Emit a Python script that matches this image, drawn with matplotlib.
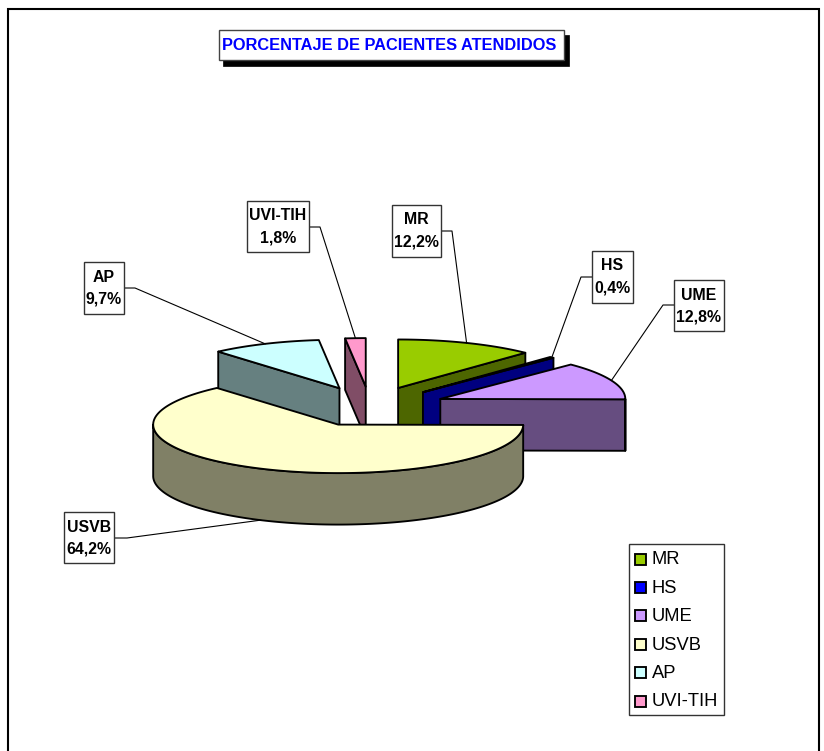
import numpy as np
from matplotlib import pyplot as plt
from matplotlib.patches import Polygon, Rectangle

plt.rcParams['font.family'] = ['Liberation Sans', 'DejaVu Sans']

categories = ["MR", "HS", "UME", "USVB", "AP", "UVI-TIH"]
values = [12.2, 0.4, 12.8, 64.2, 9.7, 1.8]
title = "PORCENTAJE DE PACIENTES ATENDIDOS"

top_colors = ["#99CC00", "#0000FF", "#CC99FF", "#FFFFCC", "#CCFFFF", "#FF99CC"]
side_colors = ["#4D6600", "#000080", "#664D80", "#808066", "#668080", "#804D66"]

# pie geometry, in pixels
CX, CY = 370, 406.5
RX, RY = 185, 48.5
DEPTH = 51.5
EXPLODE = 76
LW = 1.35

# label boxes (left, top, right, bottom), and where the leader elbow sits
boxes = {
    "MR": (392, 205, 441, 257),
    "HS": (592, 251, 633, 303),
    "UME": (674, 280, 724, 331),
    "USVB": (64, 512, 114, 563),
    "AP": (84, 262, 124, 314),
    "UVI-TIH": (247, 201, 309, 252),
}
elbows = {
    "MR": (441, 231, 452, 231),
    "HS": (592, 277, 581, 277),
    "UME": (674, 305, 663, 305),
    "USVB": (114, 538, 127, 538),
    "AP": (124, 288, 135, 288),
    "UVI-TIH": (309, 227, 320, 227),
}


def ellipse_point(ox, oy, deg):
    t = np.radians(deg)
    return ox + RX * np.sin(t), oy - RY * np.cos(t)


def arc(ox, oy, a, b):
    n = max(int(abs(b - a)) * 2, 2)
    t = np.linspace(a, b, n)
    x, y = ellipse_point(ox, oy, t)
    return np.column_stack([x, y])


fig = plt.figure(figsize=(8.24, 7.51), dpi=100)
ax = fig.add_axes([0, 0, 1, 1])
ax.set_xlim(0, 824)
ax.set_ylim(751, 0)
ax.axis("off")

# chart frame, runs off the bottom of the picture
ax.add_patch(Rectangle((8, 9), 811, 760, fc="white", ec="black", lw=1.5, zorder=0))

# slice angles: clockwise from 12 o'clock, normalised since values pass 100
total = sum(values)
ends = np.cumsum(values) / total * 360
starts = np.concatenate([[0], ends[:-1]])
mids = (starts + ends) / 2
origins = []
for m in mids:
    ox, oy = ellipse_point(CX, CY, m)
    origins.append((CX + (ox - CX) * EXPLODE / RX, CY + (oy - CY) * EXPLODE / RX))


def draw_slice(i, z):
    ox, oy = origins[i]
    a, b = starts[i], ends[i]
    style = dict(ec="black", lw=LW, joinstyle="round", zorder=z)
    # cut faces turned towards the viewer
    for ang, visible in ((a, 180 < a < 360), (b, 0 < b < 180)):
        if visible:
            px, py = ellipse_point(ox, oy, ang)
            face = [(ox, oy), (px, py), (px, py + DEPTH), (ox, oy + DEPTH)]
            ax.add_patch(Polygon(face, fc=side_colors[i], **style))
    # front part of the rim
    lo, hi = max(a, 90), min(b, 270)
    if hi > lo:
        rim = arc(ox, oy, lo, hi)
        low = rim[::-1] + [0, DEPTH]
        ax.add_patch(Polygon(np.vstack([rim, low]), fc=side_colors[i], **style))
    # top
    top = np.vstack([[(ox, oy)], arc(ox, oy, a, b)])
    ax.add_patch(Polygon(top, fc=top_colors[i], **style))


# back slices first, the big front one goes last
for z, i in enumerate([5, 4, 0, 1, 2, 3]):
    draw_slice(i, 2 + z)

# data labels and leaders
for i, name in enumerate(categories):
    x0, y0, x1, y1 = boxes[name]
    ex0, ey0, ex1, ey1 = elbows[name]
    ox, oy = origins[i]
    px, py = ellipse_point(ox, oy, mids[i])
    if 90 < mids[i] < 270:
        py += DEPTH
    ax.plot([ex0, ex1, px], [ey0, ey1, py], color="black", lw=0.8, zorder=10)
    ax.add_patch(Rectangle((x0, y0), x1 - x0, y1 - y0, fc="white", ec="#333333", lw=1.0, zorder=11))
    pct = f"{values[i]:.1f}%".replace(".", ",")
    ax.text((x0 + x1) / 2, y0 + 15, name, ha="center", va="center", fontsize=11.4,
            fontweight="bold", zorder=12)
    ax.text((x0 + x1) / 2, y0 + 37, pct, ha="center", va="center", fontsize=11.4,
            fontweight="bold", zorder=12)

# title with its drop shadow
ax.add_patch(Rectangle((223, 35), 346, 31, fc="black", ec="black", lw=0.5, zorder=13))
ax.add_patch(Rectangle((219, 30), 345, 30, fc="white", ec="#444444", lw=1.0, zorder=14))
ax.text(389, 45.5, title, ha="center", va="center", fontsize=11.8, fontweight="bold",
        color="#0000FF", zorder=15)

# legend
ax.add_patch(Rectangle((629, 544), 95, 171, fc="white", ec="#333333", lw=1.0, zorder=13))
for i, name in enumerate(categories):
    y = 559 + i * 28.4
    ax.add_patch(Rectangle((635, y - 5.5), 11, 11, fc=top_colors[i], ec="black", lw=LW, zorder=14))
    ax.text(652, y + 1, name, ha="left", va="center", fontsize=13.2, zorder=14)

fig.savefig("out.png", dpi=100)
